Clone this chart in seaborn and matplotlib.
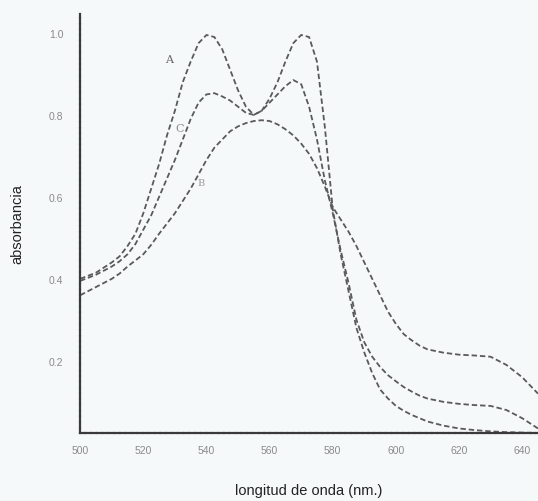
import pandas as pd
import matplotlib.pyplot as plt
import seaborn as sns

# Wavelengths (nm) and absorbance
wavelength = [500, 505, 510, 512.5, 515, 517.5, 520, 522.5, 525, 527.5, 530, 532.5,
              535, 537.5, 540, 542.5, 545, 547.5, 550, 552.5, 555, 557.5, 560, 562.5,
              565, 567.5, 570, 572.5, 575, 577.5, 580, 582.5, 585, 587.5, 590, 592.5,
              595, 597.5, 600, 602.5, 605, 607.5, 610, 615, 620, 625, 630, 635, 640, 645]

abs_a = [0.40, 0.415, 0.44, 0.455, 0.48, 0.51, 0.56, 0.62, 0.68, 0.75, 0.81, 0.88,
         0.93, 0.975, 0.995, 0.99, 0.96, 0.91, 0.86, 0.82, 0.80, 0.81, 0.84, 0.88,
         0.93, 0.975, 0.995, 0.99, 0.93, 0.77, 0.57, 0.46, 0.37, 0.28, 0.22, 0.17,
         0.13, 0.108, 0.09, 0.078, 0.068, 0.06, 0.052, 0.042, 0.035, 0.031, 0.028,
         0.026, 0.025, 0.024]

abs_c = [0.395, 0.41, 0.43, 0.443, 0.46, 0.485, 0.52, 0.555, 0.60, 0.645, 0.69, 0.74,
         0.79, 0.83, 0.85, 0.853, 0.845, 0.835, 0.82, 0.805, 0.80, 0.81, 0.83, 0.85,
         0.87, 0.885, 0.875, 0.82, 0.74, 0.64, 0.56, 0.47, 0.39, 0.30, 0.245, 0.21,
         0.185, 0.165, 0.15, 0.136, 0.125, 0.115, 0.108, 0.10, 0.095, 0.092, 0.09,
         0.08, 0.06, 0.035]

abs_b = [0.36, 0.38, 0.40, 0.413, 0.43, 0.445, 0.46, 0.483, 0.51, 0.535, 0.56, 0.59,
         0.62, 0.655, 0.69, 0.72, 0.74, 0.76, 0.772, 0.78, 0.785, 0.787, 0.785, 0.777,
         0.765, 0.75, 0.73, 0.705, 0.67, 0.625, 0.575, 0.545, 0.515, 0.48, 0.44, 0.40,
         0.36, 0.32, 0.29, 0.265, 0.25, 0.237, 0.228, 0.22, 0.215, 0.213, 0.21, 0.19,
         0.16, 0.12]

curve_names = ["A", "C", "B"]
x_ticks = [500, 520, 540, 560, 580, 600, 620, 640]
y_ticks = [0.2, 0.4, 0.6, 0.8, 1.0]

# long-form table for seaborn
df = pd.concat([
    pd.DataFrame({"wl": wavelength, "abs": vals, "curva": name})
    for name, vals in zip(curve_names, [abs_a, abs_c, abs_b])
])

sns.set_style("white")
plt.rcParams["font.family"] = ["Liberation Sans", "DejaVu Sans"]

fig = plt.figure(figsize=(5.38, 5.02), dpi=100, facecolor="#f6f9fa")
ax = fig.add_axes([0.149, 0.1355, 0.851, 0.8345])
ax.set_facecolor("#f6f9fa")

sns.lineplot(data=df, x="wl", y="abs", hue="curva", style="curva",
             palette=["#5a5a5a"] * 3, dashes=[(3, 1.6)] * 3,
             linewidth=1.3, legend=False, ax=ax, sort=False)

# curve letters
ax.text(527, 0.93, "A", fontsize=8, color="#666", family="DejaVu Serif")
ax.text(530, 0.76, "C", fontsize=8, color="#888", family="DejaVu Serif")
ax.text(537, 0.63, "B", fontsize=7, color="#999", family="DejaVu Serif")

ax.set_xlim(500, 645)
ax.set_ylim(0.024, 1.046)
ax.set_xticks(x_ticks)
ax.set_xticklabels([str(t) for t in x_ticks])
ax.set_yticks(y_ticks)
ax.set_yticklabels([f"{t:.1f}" for t in y_ticks])
ax.tick_params(axis="both", direction="in", length=6, width=1, color="#444",
               labelsize=7.5, labelcolor="#8a8a8a")
ax.tick_params(axis="x", pad=9)
ax.tick_params(axis="y", direction="inout", length=8, pad=8)

for side in ["top", "right"]:
    ax.spines[side].set_visible(False)
for side in ["left", "bottom"]:
    ax.spines[side].set_color("#3a3a3a")
    ax.spines[side].set_linewidth(1.6)
    ax.spines[side].set_linestyle((0, (2, 0.6)))

ax.set_xlabel("longitud de onda (nm.)", fontsize=10.5, color="#222", labelpad=20)
ax.set_ylabel("absorbancia", fontsize=10.5, color="#222", labelpad=18)

plt.savefig("out.png", dpi=100, facecolor=fig.get_facecolor())
